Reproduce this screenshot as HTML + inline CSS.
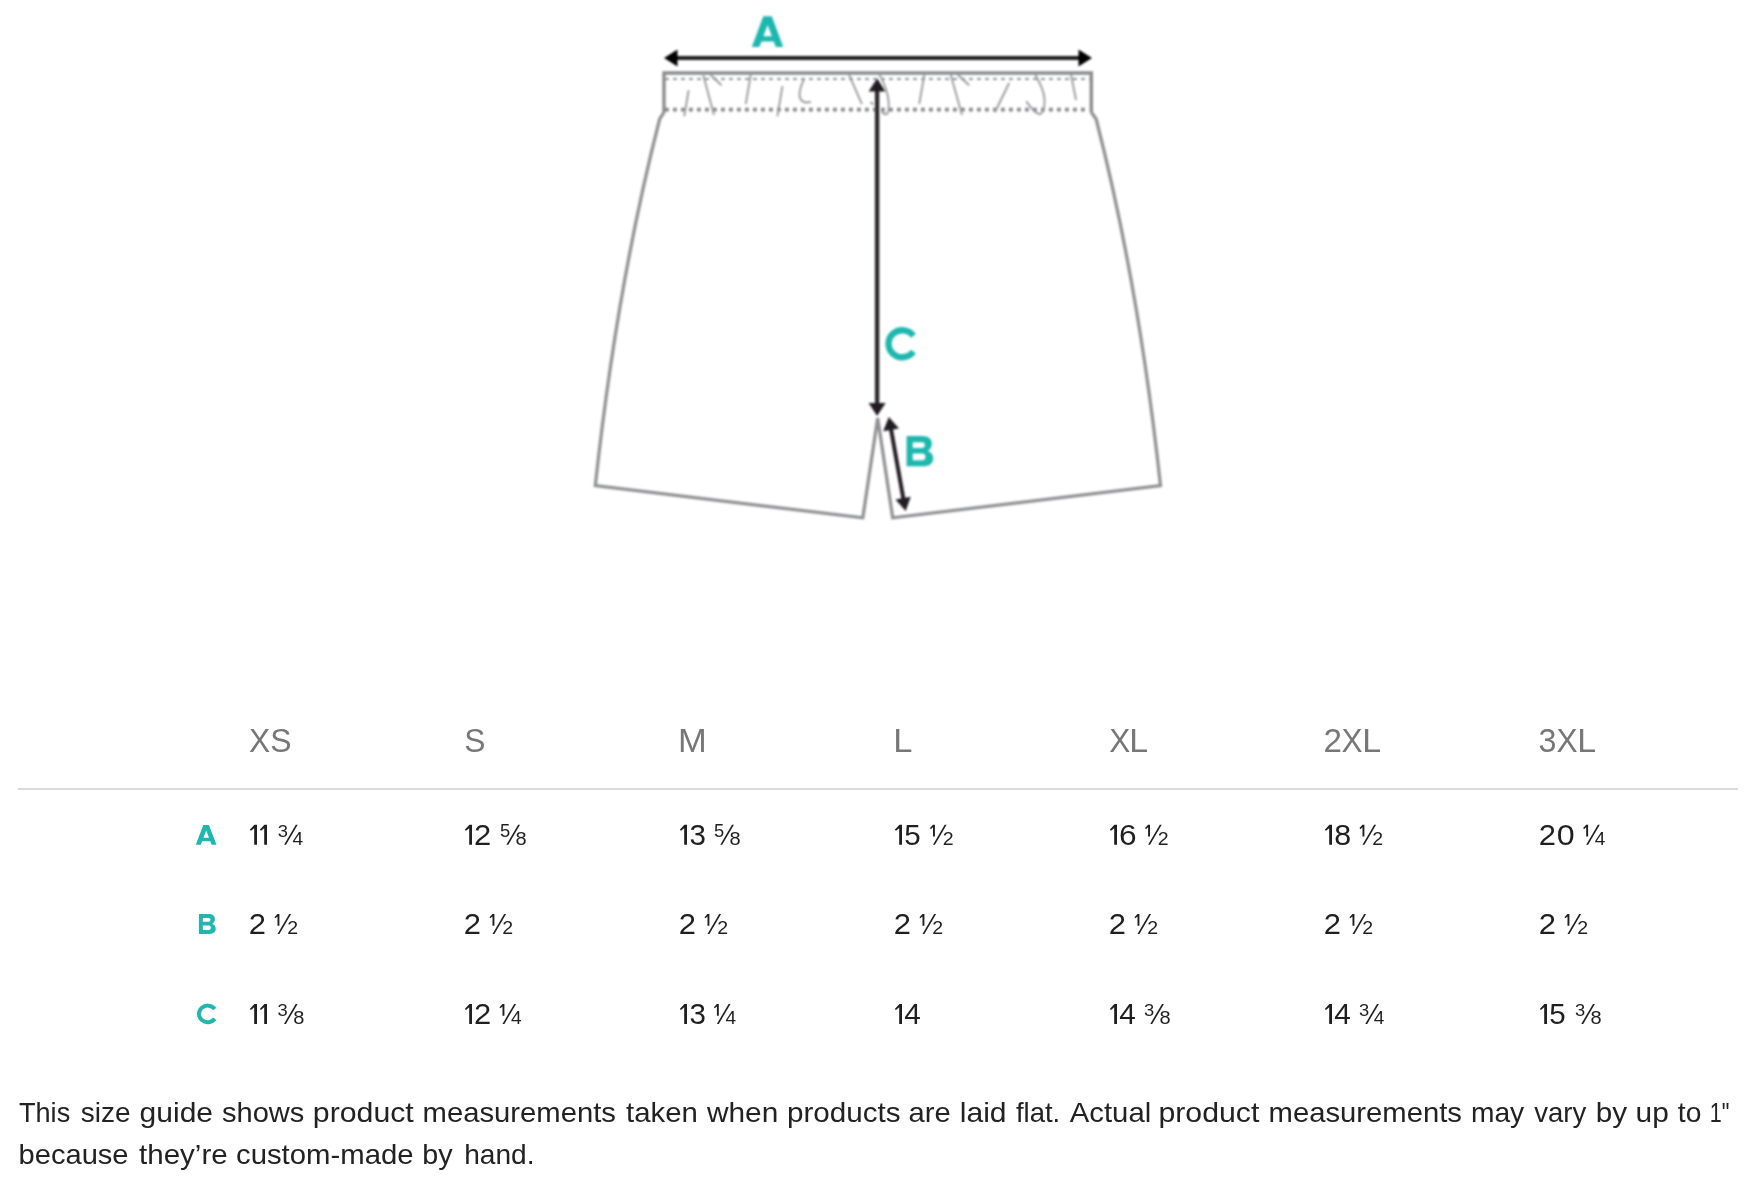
<!DOCTYPE html>
<html>
<head>
<meta charset="utf-8">
<style>
html,body{margin:0;padding:0;background:#fff;}
body{width:1756px;height:1200px;overflow:hidden;font-family:"Liberation Sans",sans-serif;}
svg{display:block;will-change:transform;}
text{font-family:"Liberation Sans",sans-serif;}
</style>
</head>
<body>
<svg width="1756" height="1200" viewBox="0 0 1756 1200">
<defs><filter id="bl" x="-5%" y="-5%" width="110%" height="110%"><feGaussianBlur stdDeviation="0.85"/></filter></defs>
<g filter="url(#bl)">
<g fill="none" stroke="#8e8f92" stroke-width="3.2" stroke-linejoin="miter">
  <path d="M664 112.3 L659.68 119 C628.23 241.33 608.5 363.67 595.3 485.6 L862.8 517.8 L877.7 418 L892.7 517.8 L1160.5 485.6 C1147.3 363.67 1127.57 241.33 1096.12 119 L1091.3 112.3"/>
  <path d="M664 112.5 L664 73 L1091.3 73 L1091.3 112.5" stroke="#8a8b8e" stroke-width="3.4"/>
</g>
<line x1="665" y1="79" x2="1090" y2="79" stroke="#939497" stroke-width="2" stroke-dasharray="4 4"/>
<line x1="665" y1="109.6" x2="1086" y2="109.6" stroke="#85868a" stroke-width="3.8" stroke-dasharray="3.8 4.2"/>
<g fill="none" stroke="#9a9b9e" stroke-width="1.9" stroke-linecap="round">
  <path d="M688.5 91 L684.4 115.6"/>
  <path d="M703.5 75.9 L713.8 114.2"/>
  <path d="M711 75.3 L721 84.8"/>
  <path d="M750.7 74.6 L745.9 103.3"/>
  <path d="M782.3 86.9 L777.5 115.6"/>
  <path d="M804.2 78.7 Q798 92 800 98 Q803 104 810.3 101.9"/>
  <path d="M849.3 75.3 L861.6 103.3"/>
  <path d="M871 102.6 L873 104"/>
  <path d="M879.1 73.9 Q888 90 888.7 102.6 Q889 114 886.6 114.2 Q883 114 881.8 111.5"/>
  <path d="M924.2 75.3 L919.4 103.3"/>
  <path d="M950.9 75.3 L961.8 114.2"/>
  <path d="M958.4 75.3 L968.6 84.8"/>
  <path d="M1008.9 83.5 L995.3 111.5"/>
  <path d="M1035.6 75.3 Q1044 90 1044.5 99.2 Q1045 112 1040 114.2 Q1035 114 1026.7 101.9"/>
  <path d="M1071.1 75.3 L1075.9 99.2"/>
</g>
<rect x="676" y="56" width="404" height="4" fill="#1e1e1e"/>
<path d="M664 58 L677.5 49.6 L677.5 66.4 Z" fill="#050505"/>
<path d="M1092 58 L1078.5 49.6 L1078.5 66.4 Z" fill="#050505"/>
<rect x="874.9" y="88" width="4.4" height="318" fill="#2a2627"/>
<path d="M877.1 78.3 L885.6 91.5 L868.6 91.5 Z" fill="#231f20"/>
<path d="M877.1 416 L885.6 403 L868.6 403 Z" fill="#231f20"/>
<line x1="890.9" y1="428.5" x2="903.5" y2="499.5" stroke="#231f20" stroke-width="4"/>
<path d="M888.8 417 L899.0 428.4 L883.2 431.2 Z" fill="#231f20"/>
<path d="M905.7 511 L910.7 496.8 L895.5 499.6 Z" fill="#231f20"/>
<path fill-rule="evenodd" fill="#1fb7ae" d="M751.80 47.10 L763.30 16.30 L771.80 16.30 L783.30 47.10 L775.90 47.10 L773.82 41.56 L761.44 41.56 L759.36 47.10 Z M763.39 36.32 L767.63 24.95 L771.87 36.32 Z"/>
<path fill="none" stroke="#1fb7ae" stroke-width="6.30" d="M913.42 335.81 A13.75 13.50 0 1 0 913.42 351.69"/>
<path fill-rule="evenodd" fill="#1fb7ae" d="M906.60 436.10 L922.03 436.10 C927.88 436.10 931.87 438.82 931.87 443.50 C931.87 447.27 930.01 449.69 927.61 450.90 C931.07 451.80 933.20 454.82 933.20 458.45 C933.20 463.28 929.48 466.30 923.09 466.30 L906.60 466.30 Z M912.72 442.14 L922.03 442.14 C923.89 442.14 924.95 443.35 924.95 445.01 C924.95 446.67 923.89 447.88 922.03 447.88 L912.72 447.88 Z M912.72 453.62 L922.56 453.62 C924.42 453.62 925.49 455.13 925.49 456.94 C925.49 458.75 924.42 460.26 922.56 460.26 L912.72 460.26 Z"/>

</g>
<text transform="translate(249.80 751.90) scale(0.9536 1)" x="-0.75" y="0" font-size="33.30" fill="#777777">X</text>
<text transform="translate(271.70 751.90) scale(0.9598 1)" x="-1.51" y="0" font-size="33.30" fill="#777777">S</text>
<text transform="translate(465.65 751.90) scale(0.9546 1)" x="-1.51" y="0" font-size="33.30" fill="#777777">S</text>
<text transform="translate(680.70 751.90) scale(1.0370 1)" x="-2.73" y="0" font-size="33.30" fill="#777777">M</text>
<text transform="translate(896.10 751.90) scale(1.0352 1)" x="-2.73" y="0" font-size="33.30" fill="#777777">L</text>
<text transform="translate(1109.90 751.90) scale(0.9488 1)" x="-0.75" y="0" font-size="33.30" fill="#777777">X</text>
<text transform="translate(1132.10 751.90) scale(1.0216 1)" x="-2.73" y="0" font-size="33.30" fill="#777777">L</text>
<text transform="translate(1325.20 751.90) scale(0.9954 1)" x="-1.67" y="0" font-size="33.30" fill="#777777">2</text>
<text transform="translate(1342.30 751.90) scale(0.9488 1)" x="-0.75" y="0" font-size="33.30" fill="#777777">X</text>
<text transform="translate(1365.00 751.90) scale(1.0216 1)" x="-2.73" y="0" font-size="33.30" fill="#777777">L</text>
<text transform="translate(1539.80 751.90) scale(0.9691 1)" x="-1.27" y="0" font-size="33.30" fill="#777777">3</text>
<text transform="translate(1557.30 751.90) scale(0.9488 1)" x="-0.75" y="0" font-size="33.30" fill="#777777">X</text>
<text transform="translate(1580.00 751.90) scale(1.0216 1)" x="-2.73" y="0" font-size="33.30" fill="#777777">L</text>
<rect x="18" y="788" width="1720" height="2" fill="#dadada"/>
<path fill-rule="evenodd" fill="#1fb7ae" d="M195.80 844.70 L203.36 825.00 L208.94 825.00 L216.50 844.70 L211.64 844.70 L210.27 841.15 L202.13 841.15 L200.77 844.70 Z M203.42 837.81 L206.20 830.54 L208.99 837.81 Z"/>
<path fill-rule="evenodd" fill="#1fb7ae" d="M199.00 914.00 L208.69 914.00 C212.36 914.00 214.86 915.79 214.86 918.88 C214.86 921.36 213.70 922.96 212.19 923.75 C214.36 924.35 215.70 926.34 215.70 928.73 C215.70 931.91 213.36 933.90 209.35 933.90 L199.00 933.90 Z M202.84 917.98 L208.69 917.98 C209.85 917.98 210.52 918.78 210.52 919.87 C210.52 920.97 209.85 921.76 208.69 921.76 L202.84 921.76 Z M202.84 925.54 L209.02 925.54 C210.19 925.54 210.86 926.54 210.86 927.73 C210.86 928.92 210.19 929.92 209.02 929.92 L202.84 929.92 Z"/>
<path fill="none" stroke="#1fb7ae" stroke-width="4.00" d="M214.74 1009.02 A8.70 8.30 0 1 0 214.74 1018.78"/>
<path d="M249.80 829.80 L254.40 824.80 L257.00 824.80 L257.00 844.80 L254.20 844.80 L254.20 828.20 L251.00 830.80 Z" fill="#1f1f1f"/>
<path d="M259.80 829.80 L264.40 824.80 L267.00 824.80 L267.00 844.80 L264.20 844.80 L264.20 828.20 L261.00 830.80 Z" fill="#1f1f1f"/>
<path d="M284.10 844.80 L286.00 844.80 L297.70 824.80 L295.80 824.80 Z" fill="#1f1f1f"/>
<text transform="translate(278.40 836.73) scale(1.0562 1)" x="-0.66" y="0" font-size="17.37" font-weight="normal" fill="#1f1f1f">3</text>
<text transform="translate(293.00 844.80) scale(1.0922 1)" x="-0.40" y="0" font-size="17.44" font-weight="normal" fill="#1f1f1f">4</text>
<path d="M464.80 829.80 L469.40 824.80 L472.00 824.80 L472.00 844.80 L469.20 844.80 L469.20 828.20 L466.00 830.80 Z" fill="#1f1f1f"/>
<text transform="translate(475.50 844.80) scale(1.0646 1)" x="-1.46" y="0" font-size="29.07" font-weight="normal" fill="#1f1f1f">2</text>
<path d="M506.40 844.80 L508.30 844.80 L520.00 824.80 L518.10 824.80 Z" fill="#1f1f1f"/>
<text transform="translate(500.80 836.73) scale(1.0409 1)" x="-0.71" y="0" font-size="17.63" font-weight="normal" fill="#1f1f1f">5</text>
<text transform="translate(516.40 844.83) scale(1.1438 1)" x="-0.76" y="0" font-size="17.51" font-weight="normal" fill="#1f1f1f">8</text>
<path d="M679.80 829.80 L684.40 824.80 L687.00 824.80 L687.00 844.80 L684.20 844.80 L684.20 828.20 L681.00 830.80 Z" fill="#1f1f1f"/>
<text transform="translate(690.50 844.82) scale(1.0149 1)" x="-1.11" y="0" font-size="29.10" font-weight="normal" fill="#1f1f1f">3</text>
<path d="M720.30 844.80 L722.20 844.80 L733.90 824.80 L732.00 824.80 Z" fill="#1f1f1f"/>
<text transform="translate(714.70 836.73) scale(1.0409 1)" x="-0.71" y="0" font-size="17.63" font-weight="normal" fill="#1f1f1f">5</text>
<text transform="translate(730.30 844.83) scale(1.1438 1)" x="-0.76" y="0" font-size="17.51" font-weight="normal" fill="#1f1f1f">8</text>
<path d="M894.80 829.80 L899.40 824.80 L902.00 824.80 L902.00 844.80 L899.20 844.80 L899.20 828.20 L896.00 830.80 Z" fill="#1f1f1f"/>
<text transform="translate(905.50 844.52) scale(1.0302 1)" x="-1.15" y="0" font-size="28.66" font-weight="normal" fill="#1f1f1f">5</text>
<path d="M933.00 844.80 L934.90 844.80 L946.60 824.80 L944.70 824.80 Z" fill="#1f1f1f"/>
<path d="M930.00 828.10 L933.00 824.80 L934.90 824.80 L934.90 836.60 L933.00 836.60 L933.00 827.30 L930.80 829.20 Z" fill="#1f1f1f"/>
<text transform="translate(943.60 844.80) scale(1.1181 1)" x="-0.88" y="0" font-size="17.47" font-weight="normal" fill="#1f1f1f">2</text>
<path d="M1109.80 829.80 L1114.40 824.80 L1117.00 824.80 L1117.00 844.80 L1114.20 844.80 L1114.20 828.20 L1111.00 830.80 Z" fill="#1f1f1f"/>
<text transform="translate(1120.50 844.82) scale(1.0875 1)" x="-1.48" y="0" font-size="29.10" font-weight="normal" fill="#1f1f1f">6</text>
<path d="M1148.10 844.80 L1150.00 844.80 L1161.70 824.80 L1159.80 824.80 Z" fill="#1f1f1f"/>
<path d="M1145.10 828.10 L1148.10 824.80 L1150.00 824.80 L1150.00 836.60 L1148.10 836.60 L1148.10 827.30 L1145.90 829.20 Z" fill="#1f1f1f"/>
<text transform="translate(1158.70 844.80) scale(1.1181 1)" x="-0.88" y="0" font-size="17.47" font-weight="normal" fill="#1f1f1f">2</text>
<path d="M1324.80 829.80 L1329.40 824.80 L1332.00 824.80 L1332.00 844.80 L1329.20 844.80 L1329.20 828.20 L1326.00 830.80 Z" fill="#1f1f1f"/>
<text transform="translate(1335.50 844.82) scale(1.0474 1)" x="-1.26" y="0" font-size="29.10" font-weight="normal" fill="#1f1f1f">8</text>
<path d="M1362.50 844.80 L1364.40 844.80 L1376.10 824.80 L1374.20 824.80 Z" fill="#1f1f1f"/>
<path d="M1359.50 828.10 L1362.50 824.80 L1364.40 824.80 L1364.40 836.60 L1362.50 836.60 L1362.50 827.30 L1360.30 829.20 Z" fill="#1f1f1f"/>
<text transform="translate(1373.10 844.80) scale(1.1181 1)" x="-0.88" y="0" font-size="17.47" font-weight="normal" fill="#1f1f1f">2</text>
<text transform="translate(1540.40 844.80) scale(1.0646 1)" x="-1.46" y="0" font-size="29.07" font-weight="normal" fill="#1f1f1f">2</text>
<text transform="translate(1557.90 844.82) scale(1.1072 1)" x="-1.14" y="0" font-size="29.10" font-weight="normal" fill="#1f1f1f">0</text>
<path d="M1586.20 844.80 L1588.10 844.80 L1599.80 824.80 L1597.90 824.80 Z" fill="#1f1f1f"/>
<path d="M1583.20 828.10 L1586.20 824.80 L1588.10 824.80 L1588.10 836.60 L1586.20 836.60 L1586.20 827.30 L1584.00 829.20 Z" fill="#1f1f1f"/>
<text transform="translate(1595.10 844.80) scale(1.0922 1)" x="-0.40" y="0" font-size="17.44" font-weight="normal" fill="#1f1f1f">4</text>
<text transform="translate(250.40 933.90) scale(1.0646 1)" x="-1.46" y="0" font-size="29.07" font-weight="normal" fill="#1f1f1f">2</text>
<path d="M277.50 933.90 L279.40 933.90 L291.10 913.90 L289.20 913.90 Z" fill="#1f1f1f"/>
<path d="M274.50 917.20 L277.50 913.90 L279.40 913.90 L279.40 925.70 L277.50 925.70 L277.50 916.40 L275.30 918.30 Z" fill="#1f1f1f"/>
<text transform="translate(288.10 933.90) scale(1.1181 1)" x="-0.88" y="0" font-size="17.47" font-weight="normal" fill="#1f1f1f">2</text>
<text transform="translate(465.40 933.90) scale(1.0646 1)" x="-1.46" y="0" font-size="29.07" font-weight="normal" fill="#1f1f1f">2</text>
<path d="M492.50 933.90 L494.40 933.90 L506.10 913.90 L504.20 913.90 Z" fill="#1f1f1f"/>
<path d="M489.50 917.20 L492.50 913.90 L494.40 913.90 L494.40 925.70 L492.50 925.70 L492.50 916.40 L490.30 918.30 Z" fill="#1f1f1f"/>
<text transform="translate(503.10 933.90) scale(1.1181 1)" x="-0.88" y="0" font-size="17.47" font-weight="normal" fill="#1f1f1f">2</text>
<text transform="translate(680.40 933.90) scale(1.0646 1)" x="-1.46" y="0" font-size="29.07" font-weight="normal" fill="#1f1f1f">2</text>
<path d="M707.50 933.90 L709.40 933.90 L721.10 913.90 L719.20 913.90 Z" fill="#1f1f1f"/>
<path d="M704.50 917.20 L707.50 913.90 L709.40 913.90 L709.40 925.70 L707.50 925.70 L707.50 916.40 L705.30 918.30 Z" fill="#1f1f1f"/>
<text transform="translate(718.10 933.90) scale(1.1181 1)" x="-0.88" y="0" font-size="17.47" font-weight="normal" fill="#1f1f1f">2</text>
<text transform="translate(895.40 933.90) scale(1.0646 1)" x="-1.46" y="0" font-size="29.07" font-weight="normal" fill="#1f1f1f">2</text>
<path d="M922.50 933.90 L924.40 933.90 L936.10 913.90 L934.20 913.90 Z" fill="#1f1f1f"/>
<path d="M919.50 917.20 L922.50 913.90 L924.40 913.90 L924.40 925.70 L922.50 925.70 L922.50 916.40 L920.30 918.30 Z" fill="#1f1f1f"/>
<text transform="translate(933.10 933.90) scale(1.1181 1)" x="-0.88" y="0" font-size="17.47" font-weight="normal" fill="#1f1f1f">2</text>
<text transform="translate(1110.40 933.90) scale(1.0646 1)" x="-1.46" y="0" font-size="29.07" font-weight="normal" fill="#1f1f1f">2</text>
<path d="M1137.50 933.90 L1139.40 933.90 L1151.10 913.90 L1149.20 913.90 Z" fill="#1f1f1f"/>
<path d="M1134.50 917.20 L1137.50 913.90 L1139.40 913.90 L1139.40 925.70 L1137.50 925.70 L1137.50 916.40 L1135.30 918.30 Z" fill="#1f1f1f"/>
<text transform="translate(1148.10 933.90) scale(1.1181 1)" x="-0.88" y="0" font-size="17.47" font-weight="normal" fill="#1f1f1f">2</text>
<text transform="translate(1325.40 933.90) scale(1.0646 1)" x="-1.46" y="0" font-size="29.07" font-weight="normal" fill="#1f1f1f">2</text>
<path d="M1352.50 933.90 L1354.40 933.90 L1366.10 913.90 L1364.20 913.90 Z" fill="#1f1f1f"/>
<path d="M1349.50 917.20 L1352.50 913.90 L1354.40 913.90 L1354.40 925.70 L1352.50 925.70 L1352.50 916.40 L1350.30 918.30 Z" fill="#1f1f1f"/>
<text transform="translate(1363.10 933.90) scale(1.1181 1)" x="-0.88" y="0" font-size="17.47" font-weight="normal" fill="#1f1f1f">2</text>
<text transform="translate(1540.40 933.90) scale(1.0646 1)" x="-1.46" y="0" font-size="29.07" font-weight="normal" fill="#1f1f1f">2</text>
<path d="M1567.50 933.90 L1569.40 933.90 L1581.10 913.90 L1579.20 913.90 Z" fill="#1f1f1f"/>
<path d="M1564.50 917.20 L1567.50 913.90 L1569.40 913.90 L1569.40 925.70 L1567.50 925.70 L1567.50 916.40 L1565.30 918.30 Z" fill="#1f1f1f"/>
<text transform="translate(1578.10 933.90) scale(1.1181 1)" x="-0.88" y="0" font-size="17.47" font-weight="normal" fill="#1f1f1f">2</text>
<path d="M249.80 1008.90 L254.40 1003.90 L257.00 1003.90 L257.00 1023.90 L254.20 1023.90 L254.20 1007.30 L251.00 1009.90 Z" fill="#1f1f1f"/>
<path d="M259.80 1008.90 L264.40 1003.90 L267.00 1003.90 L267.00 1023.90 L264.20 1023.90 L264.20 1007.30 L261.00 1009.90 Z" fill="#1f1f1f"/>
<path d="M284.00 1023.90 L285.90 1023.90 L297.60 1003.90 L295.70 1003.90 Z" fill="#1f1f1f"/>
<text transform="translate(278.30 1015.83) scale(1.0562 1)" x="-0.66" y="0" font-size="17.37" font-weight="normal" fill="#1f1f1f">3</text>
<text transform="translate(294.00 1023.93) scale(1.1438 1)" x="-0.76" y="0" font-size="17.51" font-weight="normal" fill="#1f1f1f">8</text>
<path d="M464.80 1008.90 L469.40 1003.90 L472.00 1003.90 L472.00 1023.90 L469.20 1023.90 L469.20 1007.30 L466.00 1009.90 Z" fill="#1f1f1f"/>
<text transform="translate(475.50 1023.90) scale(1.0646 1)" x="-1.46" y="0" font-size="29.07" font-weight="normal" fill="#1f1f1f">2</text>
<path d="M502.50 1023.90 L504.40 1023.90 L516.10 1003.90 L514.20 1003.90 Z" fill="#1f1f1f"/>
<path d="M499.50 1007.20 L502.50 1003.90 L504.40 1003.90 L504.40 1015.70 L502.50 1015.70 L502.50 1006.40 L500.30 1008.30 Z" fill="#1f1f1f"/>
<text transform="translate(511.40 1023.90) scale(1.0922 1)" x="-0.40" y="0" font-size="17.44" font-weight="normal" fill="#1f1f1f">4</text>
<path d="M679.80 1008.90 L684.40 1003.90 L687.00 1003.90 L687.00 1023.90 L684.20 1023.90 L684.20 1007.30 L681.00 1009.90 Z" fill="#1f1f1f"/>
<text transform="translate(690.50 1023.92) scale(1.0149 1)" x="-1.11" y="0" font-size="29.10" font-weight="normal" fill="#1f1f1f">3</text>
<path d="M716.90 1023.90 L718.80 1023.90 L730.50 1003.90 L728.60 1003.90 Z" fill="#1f1f1f"/>
<path d="M713.90 1007.20 L716.90 1003.90 L718.80 1003.90 L718.80 1015.70 L716.90 1015.70 L716.90 1006.40 L714.70 1008.30 Z" fill="#1f1f1f"/>
<text transform="translate(725.80 1023.90) scale(1.0922 1)" x="-0.40" y="0" font-size="17.44" font-weight="normal" fill="#1f1f1f">4</text>
<path d="M894.80 1008.90 L899.40 1003.90 L902.00 1003.90 L902.00 1023.90 L899.20 1023.90 L899.20 1007.30 L896.00 1009.90 Z" fill="#1f1f1f"/>
<text transform="translate(904.90 1023.90) scale(1.0240 1)" x="-0.67" y="0" font-size="29.07" font-weight="normal" fill="#1f1f1f">4</text>
<path d="M1109.80 1008.90 L1114.40 1003.90 L1117.00 1003.90 L1117.00 1023.90 L1114.20 1023.90 L1114.20 1007.30 L1111.00 1009.90 Z" fill="#1f1f1f"/>
<text transform="translate(1119.90 1023.90) scale(1.0240 1)" x="-0.67" y="0" font-size="29.07" font-weight="normal" fill="#1f1f1f">4</text>
<path d="M1150.30 1023.90 L1152.20 1023.90 L1163.90 1003.90 L1162.00 1003.90 Z" fill="#1f1f1f"/>
<text transform="translate(1144.60 1015.83) scale(1.0562 1)" x="-0.66" y="0" font-size="17.37" font-weight="normal" fill="#1f1f1f">3</text>
<text transform="translate(1160.30 1023.93) scale(1.1438 1)" x="-0.76" y="0" font-size="17.51" font-weight="normal" fill="#1f1f1f">8</text>
<path d="M1324.80 1008.90 L1329.40 1003.90 L1332.00 1003.90 L1332.00 1023.90 L1329.20 1023.90 L1329.20 1007.30 L1326.00 1009.90 Z" fill="#1f1f1f"/>
<text transform="translate(1334.90 1023.90) scale(1.0240 1)" x="-0.67" y="0" font-size="29.07" font-weight="normal" fill="#1f1f1f">4</text>
<path d="M1365.30 1023.90 L1367.20 1023.90 L1378.90 1003.90 L1377.00 1003.90 Z" fill="#1f1f1f"/>
<text transform="translate(1359.60 1015.83) scale(1.0562 1)" x="-0.66" y="0" font-size="17.37" font-weight="normal" fill="#1f1f1f">3</text>
<text transform="translate(1374.20 1023.90) scale(1.0922 1)" x="-0.40" y="0" font-size="17.44" font-weight="normal" fill="#1f1f1f">4</text>
<path d="M1539.80 1008.90 L1544.40 1003.90 L1547.00 1003.90 L1547.00 1023.90 L1544.20 1023.90 L1544.20 1007.30 L1541.00 1009.90 Z" fill="#1f1f1f"/>
<text transform="translate(1550.50 1023.62) scale(1.0302 1)" x="-1.15" y="0" font-size="28.66" font-weight="normal" fill="#1f1f1f">5</text>
<path d="M1581.30 1023.90 L1583.20 1023.90 L1594.90 1003.90 L1593.00 1003.90 Z" fill="#1f1f1f"/>
<text transform="translate(1575.60 1015.83) scale(1.0562 1)" x="-0.66" y="0" font-size="17.37" font-weight="normal" fill="#1f1f1f">3</text>
<text transform="translate(1591.30 1023.93) scale(1.1438 1)" x="-0.76" y="0" font-size="17.51" font-weight="normal" fill="#1f1f1f">8</text>
<text x="19.00" y="1121.80" font-size="28.00" fill="#222" textLength="51.20" lengthAdjust="spacingAndGlyphs">This</text>
<text x="80.80" y="1121.80" font-size="28.00" fill="#222" textLength="49.79" lengthAdjust="spacingAndGlyphs">size</text>
<text x="139.60" y="1121.80" font-size="28.00" fill="#222" textLength="73.41" lengthAdjust="spacingAndGlyphs">guide</text>
<text x="222.00" y="1121.80" font-size="28.00" fill="#222" textLength="82.36" lengthAdjust="spacingAndGlyphs">shows</text>
<text x="312.80" y="1121.80" font-size="28.00" fill="#222" textLength="100.99" lengthAdjust="spacingAndGlyphs">product</text>
<text x="422.60" y="1121.80" font-size="28.00" fill="#222" textLength="193.39" lengthAdjust="spacingAndGlyphs">measurements</text>
<text x="626.00" y="1121.80" font-size="28.00" fill="#222" textLength="71.80" lengthAdjust="spacingAndGlyphs">taken</text>
<text x="706.91" y="1121.80" font-size="28.00" fill="#222" textLength="71.33" lengthAdjust="spacingAndGlyphs">when</text>
<text x="787.00" y="1121.80" font-size="28.00" fill="#222" textLength="113.59" lengthAdjust="spacingAndGlyphs">products</text>
<text x="908.60" y="1121.80" font-size="28.00" fill="#222" textLength="42.17" lengthAdjust="spacingAndGlyphs">are</text>
<text x="959.80" y="1121.80" font-size="28.00" fill="#222" textLength="46.78" lengthAdjust="spacingAndGlyphs">laid</text>
<text x="1016.00" y="1121.80" font-size="28.00" fill="#222" textLength="44.23" lengthAdjust="spacingAndGlyphs">flat.</text>
<text x="1069.80" y="1121.80" font-size="28.00" fill="#222" textLength="81.42" lengthAdjust="spacingAndGlyphs">Actual</text>
<text x="1158.40" y="1121.80" font-size="28.00" fill="#222" textLength="100.99" lengthAdjust="spacingAndGlyphs">product</text>
<text x="1268.60" y="1121.80" font-size="28.00" fill="#222" textLength="193.39" lengthAdjust="spacingAndGlyphs">measurements</text>
<text x="1471.00" y="1121.80" font-size="28.00" fill="#222" textLength="53.20" lengthAdjust="spacingAndGlyphs">may</text>
<text x="1534.20" y="1121.80" font-size="28.00" fill="#222" textLength="52.00" lengthAdjust="spacingAndGlyphs">vary</text>
<text x="1595.80" y="1121.80" font-size="28.00" fill="#222" textLength="31.37" lengthAdjust="spacingAndGlyphs">by</text>
<text x="1635.60" y="1121.80" font-size="28.00" fill="#222" textLength="33.25" lengthAdjust="spacingAndGlyphs">up</text>
<text x="1677.80" y="1121.80" font-size="28.00" fill="#222" textLength="23.55" lengthAdjust="spacingAndGlyphs">to</text>
<text x="1709.80" y="1121.80" font-size="28.00" fill="#222" textLength="19.61" lengthAdjust="spacingAndGlyphs">1&quot;</text>
<text x="18.60" y="1163.60" font-size="28.00" fill="#222" textLength="109.96" lengthAdjust="spacingAndGlyphs">because</text>
<text x="139.00" y="1163.60" font-size="28.00" fill="#222" textLength="88.64" lengthAdjust="spacingAndGlyphs">they’re</text>
<text x="236.00" y="1163.60" font-size="28.00" fill="#222" textLength="177.61" lengthAdjust="spacingAndGlyphs">custom-made</text>
<text x="422.20" y="1163.60" font-size="28.00" fill="#222" textLength="30.37" lengthAdjust="spacingAndGlyphs">by</text>
<text x="464.20" y="1163.60" font-size="28.00" fill="#222" textLength="70.37" lengthAdjust="spacingAndGlyphs">hand.</text>
</svg>
</body>
</html>
